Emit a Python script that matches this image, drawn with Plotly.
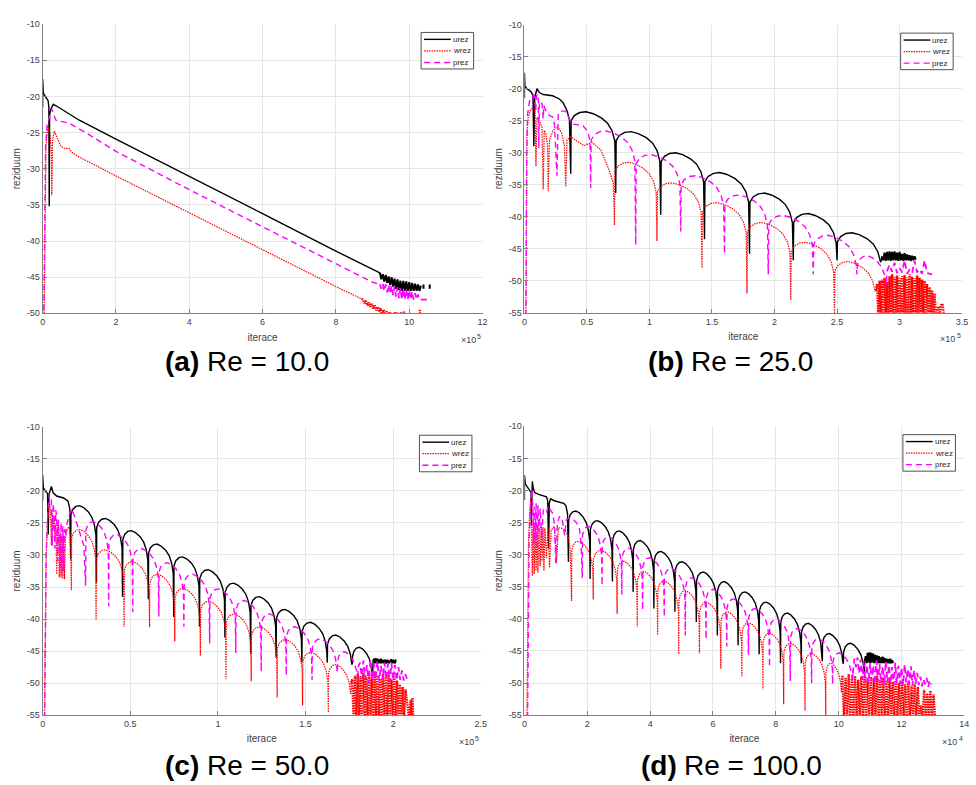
import plotly.graph_objects as go

W, H = 976, 785
FONT = "Liberation Sans, Arial, Helvetica, sans-serif"

# ---------------------------------------------------------------------------
# Residual histories. x is in units of 1e5 iterations (a, b, c) or 1e4 (d).
# Oscillating histories are stored as a start segment, a chain of arches
# (arch boundaries / dip depths / arch peak levels) and a noisy tail.
# ---------------------------------------------------------------------------

# shape of one arch: position inside the arch and drop below the arch peak
ARC_FRAC = [0.01, 0.08, 0.2, 0.34, 0.5, 0.68, 0.82, 0.92, 0.98]
ARC_DROP = [1.4, 0.6, 0.12, 0.0, 0.3, 0.95, 1.8, 3.0, 4.6]

# ----- (a) Re = 10 ---------------------------------------------------------
A_U_X = [0, 0, 0.02, 0.1, 0.15, 0.17, 0.18, 0.19, 0.22, 0.29, 0.4, 0.7, 1.0, 2.0, 4.0, 6.0, 8.0, 9.0, 9.2]
A_U_Y = [-21.5, -17.6, -19.6, -20.2, -20.6, -21.5, -35.2, -22.6, -21.8, -21.1, -21.4, -22.4, -23.3, -25.9, -31.0, -36.2, -41.4, -43.9, -44.4]
A_U_TAIL_X = [9.24, 9.28, 9.32, 9.36, 9.40, 9.44, 9.48, 9.52, 9.56, 9.60, 9.64, 9.68, 9.72, 9.76, 9.80,
              9.84, 9.88, 9.92, 9.96, 10.00, 10.04, 10.08, 10.12, 10.16, 10.20, 10.24, 10.28, 10.32,
              None, 10.39, 10.39, None, 10.56, 10.56]
A_U_TAIL_Y = [-45.3, -44.6, -45.6, -44.7, -45.8, -44.9, -46.1, -45.0, -46.3, -45.2, -46.6, -45.3, -46.8, -45.5, -46.9,
              -45.5, -46.9, -45.6, -46.9, -45.7, -46.9, -45.8, -46.9, -45.9, -46.9, -46.0, -46.9, -46.2,
              None, -46.0, -46.6, None, -46.0, -46.6]

A_W_X = [0.04, 0.06, 0.09, 0.14, 0.2, 0.24, 0.25, 0.27, 0.32, 0.4, 0.5, 0.6, 0.72, 0.81, 1.0, 2.0, 4.0, 6.0, 8.0, 8.7]
A_W_Y = [-51, -35, -27, -24.2, -25.0, -28.0, -33.7, -26.0, -24.8, -25.8, -26.9, -27.2, -27.2, -27.8, -28.4, -31.0, -36.1, -41.3, -46.3, -48.0]
A_W_TAIL_X = [8.74, 8.78, 8.82, 8.86, 8.90, 8.94, 8.98, 9.02, 9.06, 9.10, 9.14, 9.18, 9.22, 9.26, 9.30,
              9.34, 9.38, 9.42, 9.46, 9.50, 9.54, 9.58, 9.62, 9.66, 9.70, 9.74, 9.78, 9.82, 9.86, 9.90,
              None, 10.29, 10.29]
A_W_TAIL_Y = [-48.1, -48.6, -48.3, -48.9, -48.5, -49.1, -48.7, -49.4, -48.9, -49.6, -49.1, -49.8, -49.3, -50.5, -49.5,
              -50.5, -49.7, -50.5, -49.8, -50.5, -49.9, -50.5, -49.8, -50.5, -49.9, -50.5, -49.9, -50.5, -49.8, -50.5,
              None, -49.5, -50.5]

A_P_X = [0.03, 0.05, 0.08, 0.12, 0.17, 0.25, 0.36, 0.72, 1.17, 2.0, 4.0, 6.0, 8.0, 9.0, 9.2]
A_P_Y = [-51, -35, -27, -24.0, -23.0, -21.7, -23.3, -23.7, -25.0, -27.6, -32.9, -38.0, -43.2, -45.7, -46.0]
A_P_TAIL_X = [9.24, 9.28, 9.32, 9.36, 9.40, 9.44, 9.48, 9.52, 9.56, 9.60, 9.64, 9.68, 9.72, 9.76,
              9.80, 9.84, 9.88, 9.92, 9.96, 10.00, 10.04, 10.08, 10.12, 10.16, 10.20, 10.24, 10.28, 10.6]
A_P_TAIL_Y = [-46.6, -45.9, -46.9, -46.0, -47.1, -46.1, -47.3, -46.2, -47.5, -46.3, -47.7, -46.4, -47.9, -46.5,
              -48.1, -46.6, -48.1, -46.7, -48.1, -46.8, -48.1, -47.0, -48.1, -47.2, -48.1, -47.4, -48.1, -48.1]

# ----- (b) Re = 25 ---------------------------------------------------------
B_U_HEAD_X = [0, 0, 0.004, 0.02, 0.05, 0.068, 0.075, 0.082, 0.1, 0.12, 0.15, 0.225, 0.28, 0.31, 0.34, 0.36]
B_U_HEAD_Y = [-21.5, -17.5, -19.6, -20.0, -20.4, -21.0, -29.0, -21.4, -20.0, -20.6, -20.9, -21.1, -21.6, -22.2, -23.4, -24.9]
B_U_DIP_X = [0.37, 0.73, 1.09, 1.44, 1.80, 2.15, 2.50, 2.855]
B_U_DIP_Y = [-33.3, -36.3, -39.7, -43.5, -45.8, -46.8, -46.8, -46.8]
B_U_PEAK = [-23.6, -26.7, -30.0, -33.1, -36.3, -39.5, -42.5]
B_U_TAIL_X = [2.86, 2.87, 2.88, 2.89, 2.90, 2.91, 2.92, 2.93, 2.94, 2.95, 2.96, 2.97, 2.98, 2.99,
              3.00, 3.01, 3.02, 3.03, 3.04, 3.05, 3.06, 3.07, 3.08, 3.09, 3.10, 3.11, 3.12, 3.13]
B_U_TAIL_Y = [-46.2, -46.8, -45.6, -46.9, -45.5, -46.8, -45.4, -46.9, -45.5, -46.8, -45.4, -46.8, -45.6, -46.9,
              -45.5, -46.8, -45.8, -46.9, -45.7, -46.8, -45.9, -46.8, -46.0, -46.9, -46.1, -46.8, -46.2, -46.7]

B_W_HEAD_X = [0.012, 0.015, 0.02, 0.03, 0.05, 0.07, 0.085, 0.092, 0.1, 0.12, 0.14, 0.15, 0.158, 0.17, 0.185,
              0.19, 0.2, 0.23, 0.265, 0.3, 0.32, 0.33, 0.34, 0.37, 0.41, 0.475, 0.54, 0.61, 0.675, 0.71]
B_W_HEAD_Y = [-55.5, -35, -27, -24.5, -23.2, -23.0, -23.5, -32.1, -24.5, -25.0, -26.0, -35.7, -26.5, -27.0, -29.0,
              -36.0, -28.0, -26.5, -25.9, -27.0, -29.0, -35.3, -28.0, -27.5, -28.0, -28.9, -28.4, -29.5, -32.6, -34.7]
B_W_DIP_X = [0.72, 1.06, 1.42, 1.78, 2.13, 2.48, 2.81]
B_W_DIP_Y = [-41.3, -43.8, -48.0, -52.0, -53.0, -55.5, -51.5]
B_W_PEAK = [-31.5, -34.7, -37.8, -40.9, -44.0, -47.0]
B_W_TAIL_X = [2.82, 2.83, 2.84, 2.85, 2.86, 2.87, 2.88, 2.89, 2.90, 2.91, 2.92, 2.93, 2.94, 2.95, 2.96, 2.97,
              2.98, 2.99, 3.00, 3.01, 3.02, 3.03, 3.04, 3.05, 3.06, 3.07, 3.08, 3.09, 3.10, 3.11, 3.12, 3.13,
              3.14, 3.15, 3.16, 3.17, 3.18, 3.19, 3.20, 3.21, 3.22, 3.23, 3.24, 3.25, 3.26, 3.27, 3.28,
              3.29, 3.31, 3.32, 3.335, 3.345, 3.355]
B_W_TAIL_Y = [-50.5, -55.5, -50.0, -55.5, -49.8, -55.5, -49.5, -55.5, -50.2, -55.5, -49.3, -55.5, -49.0, -55.5, -49.4, -55.5,
              -49.2, -55.5, -49.6, -55.5, -49.3, -55.5, -49.1, -55.5, -49.5, -55.5, -49.0, -55.5, -49.4, -55.5, -49.6, -55.5,
              -49.2, -55.5, -49.5, -55.5, -49.8, -55.5, -50.0, -55.5, -50.5, -55.5, -51.0, -55.5, -51.5, -55.5, -52.0,
              -55.5, -54.0, -55.5, -53.6, -53.8, -55.5]

B_P_HEAD_X = [0.012, 0.014, 0.018, 0.025, 0.04, 0.06, 0.08, 0.09, 0.095, 0.105, 0.11, 0.115, 0.12, 0.14, 0.15,
              0.155, 0.17, 0.2, 0.225, 0.24, 0.26, 0.27, 0.29, 0.33, 0.36, 0.38, 0.42, 0.47, 0.51, 0.525]
B_P_HEAD_Y = [-55.5, -42, -30, -24, -22.0, -21.2, -21.0, -23.5, -21.3, -20.8, -21.6, -29.3, -22.0, -22.3, -24.7,
              -22.6, -23.4, -24.2, -24.4, -25.5, -33.6, -24.0, -23.5, -23.5, -24.6, -25.5, -25.6, -25.8, -26.8, -28.5]
B_P_DIP_X = [0.53, 0.89, 1.25, 1.60, 1.95, 2.31, 2.66, 2.90]
B_P_DIP_Y = [-35.5, -44.4, -42.3, -45.8, -49.0, -49.0, -49.0, -48.5]
B_P_PEAK = [-26.6, -30.3, -33.6, -36.6, -39.8, -42.9, -46.1]
B_P_TAIL_X = [2.92, 2.94, 2.96, 2.98, 3.00, 3.02, 3.04, 3.06, 3.08, 3.10, 3.12, 3.14, 3.16, 3.18, 3.20, 3.22, 3.24, 3.26]
B_P_TAIL_Y = [-47.5, -48.6, -47.2, -48.8, -48.0, -48.7, -46.8, -48.9, -48.3, -48.8, -46.9, -48.7, -48.2, -48.9, -46.8, -48.8, -48.9, -49.0]

# ----- (c) Re = 50 ---------------------------------------------------------
C_U_HEAD_X = [0, 0, 0.004, 0.015, 0.028, 0.032, 0.036, 0.05, 0.06, 0.08, 0.12, 0.145, 0.155]
C_U_HEAD_Y = [-21.5, -17.5, -19.5, -20.0, -20.4, -26.8, -20.6, -19.3, -20.3, -20.8, -21.1, -21.6, -22.8]
C_U_DIP_X = [0.16, 0.307, 0.456, 0.603, 0.748, 0.895, 1.04, 1.187, 1.332, 1.479, 1.624, 1.767, 1.885]
C_U_DIP_Y = [-30.7, -34.3, -36.5, -36.9, -39.7, -41.2, -42.9, -45.4, -46.0, -46.8, -46.8, -46.9, -46.6]
C_U_PEAK = [-22.3, -24.3, -26.2, -28.3, -30.3, -32.3, -34.4, -36.5, -38.5, -40.5, -42.5, -44.4]
C_U_TAIL_X = [1.89, 1.895, 1.90, 1.905, 1.91, 1.915, 1.92, 1.925, 1.93, 1.935, 1.94, 1.95, 1.955, 1.96,
              1.97, 1.975, 1.99, 1.995, 2.00, 2.01, 2.015]
C_U_TAIL_Y = [-46.2, -46.9, -46.1, -46.9, -46.2, -46.9, -46.3, -46.9, -46.2, -46.9, -46.4, -46.9, -46.3, -46.9,
              -46.4, -46.9, -46.3, -46.9, -46.4, -46.9, -46.3]

C_W_HEAD_X = [0.01, 0.015, 0.02, 0.03, 0.038, 0.045, 0.05, 0.055, 0.06, 0.065, 0.07, 0.075, 0.08, 0.085, 0.09,
              0.095, 0.1, 0.105, 0.11, 0.115, 0.12, 0.125, 0.13, 0.14, 0.15, 0.158]
C_W_HEAD_Y = [-55.5, -40, -30, -24, -21.8, -23.0, -28.5, -23.5, -26.0, -24.5, -27.0, -25.0, -33.0, -25.3, -25.0,
              -33.5, -26.5, -33.5, -26.8, -33.7, -27.0, -33.8, -27.5, -26.0, -25.6, -27.0]
C_W_DIP_X = [0.164, 0.305, 0.465, 0.61, 0.754, 0.9, 1.046, 1.19, 1.338, 1.483, 1.63, 1.76]
C_W_DIP_Y = [-35.5, -40.1, -41.2, -41.3, -43.5, -45.7, -49.4, -49.7, -52.3, -53.5, -54.6, -50.0]
C_W_PEAK = [-26.0, -29.2, -31.0, -33.0, -35.2, -37.2, -39.2, -41.2, -43.2, -45.2, -47.1]
C_W_TAIL_X = [1.766, 1.774, 1.782, 1.790, 1.798, 1.806, 1.814, 1.822, 1.830, 1.838, 1.846, 1.854, 1.862,
              1.870, 1.878, 1.886, 1.894, 1.902, 1.910, 1.918, 1.926, 1.934, 1.942, 1.950, 1.958, 1.966,
              1.974, 1.982, 1.990, 1.998, 2.006, 2.014, 2.022, 2.030, 2.038, 2.046, 2.054, 2.062, 2.070,
              2.090, 2.100, 2.104, 2.110, 2.115]
C_W_TAIL_Y = [-49.4, -55.5, -48.8, -55.5, -48.5, -55.5, -48.9, -55.5, -48.4, -55.5, -49.0, -55.5, -48.6,
              -55.5, -49.2, -55.5, -48.5, -55.5, -48.8, -55.5, -49.3, -55.5, -48.6, -55.5, -49.0, -55.5,
              -48.7, -55.5, -49.4, -55.5, -49.0, -55.5, -49.6, -55.5, -50.2, -55.5, -50.6, -55.5, -51.0,
              -55.5, -52.6, -55.5, -52.3, -55.5]

C_P_HEAD_X = [0.012, 0.016, 0.02, 0.03, 0.038, 0.045, 0.05, 0.055, 0.06, 0.065, 0.07, 0.075, 0.08, 0.085, 0.09,
              0.1, 0.105, 0.11, 0.115, 0.12, 0.125, 0.13, 0.14, 0.155, 0.165, 0.18, 0.2, 0.22, 0.235]
C_P_HEAD_Y = [-55.5, -40, -30, -23, -20.5, -21.0, -21.5, -28.5, -22.0, -23.5, -29.0, -23.0, -24.0, -31.0, -24.5,
              -32.0, -25.0, -33.0, -25.5, -32.5, -26.0, -27.0, -25.0, -23.5, -22.8, -23.8, -25.5, -27.0, -28.5]
C_P_DIP_X = [0.245, 0.377, 0.514, 0.663, 0.806, 0.953, 1.102, 1.247, 1.39, 1.537, 1.682, 1.80]
C_P_DIP_Y = [-34.8, -38.0, -38.9, -39.6, -41.2, -43.8, -45.3, -48.2, -48.8, -49.5, -48.4, -47.5]
C_P_PEAK = [-24.8, -26.8, -29.0, -31.2, -33.0, -35.3, -37.1, -39.2, -41.2, -43.1, -45.1]
C_P_TAIL_X = [1.81, 1.82, 1.83, 1.84, 1.85, 1.86, 1.87, 1.88, 1.89, 1.90, 1.91, 1.92, 1.93, 1.94,
              1.95, 1.96, 1.97, 1.98, 1.99, 2.00, 2.01, 2.02, 2.03, 2.04, 2.05, 2.06, 2.07, 2.08]
C_P_TAIL_Y = [-46.8, -48.9, -46.5, -49.3, -47.2, -50.0, -46.4, -49.5, -47.0, -49.4, -46.6, -49.6, -47.3, -49.5,
              -46.8, -49.4, -47.0, -49.8, -46.9, -49.5, -47.2, -49.6, -47.5, -49.5, -48.0, -49.6, -48.6, -49.5]

# ----- (d) Re = 100 (x in units of 1e4) -------------------------------------
D_U_HEAD_X = [0, 0, 0.03, 0.1, 0.18, 0.21, 0.22, 0.235, 0.25, 0.28, 0.32, 0.45, 0.6, 0.7, 0.74, 0.77, 0.79,
              0.83, 0.95, 1.1, 1.25, 1.32, 1.37]
D_U_HEAD_Y = [-21.5, -17.6, -19.0, -19.5, -19.9, -20.3, -25.4, -20.0, -18.6, -19.6, -20.3, -20.6, -20.8, -21.0,
              -21.6, -29.0, -22.0, -21.3, -21.6, -21.8, -22.0, -22.4, -23.6]
D_U_DIP_X = [1.40, 2.09, 2.80, 3.46, 4.12, 4.79, 5.47, 6.14, 6.80, 7.47, 8.15, 8.81, 9.48, 10.15, 10.83]
D_U_DIP_Y = [-31.1, -33.8, -34.2, -35.8, -38.4, -38.9, -40.5, -42.6, -44.1, -45.5, -46.9, -46.9, -46.6, -46.9, -46.6]
D_U_PEAK = [-23.2, -24.7, -26.3, -27.8, -29.5, -31.1, -32.7, -34.2, -35.8, -37.4, -39.1, -40.7, -42.3, -43.8]
D_U_TAIL_X = [10.86, 10.89, 10.92, 10.95, 10.98, 11.01, 11.04, 11.07, 11.10, 11.13, 11.16, 11.19, 11.22, 11.25,
              11.28, 11.31, 11.34, 11.37, 11.40, 11.43, 11.46, 11.49, 11.52, 11.55, 11.58, 11.61, 11.64, 11.67,
              11.70, 11.73]
D_U_TAIL_Y = [-45.8, -46.9, -45.3, -46.8, -45.2, -46.9, -45.3, -46.8, -45.4, -46.9, -45.6, -46.8, -45.7, -46.9,
              -45.8, -46.9, -46.0, -46.9, -45.9, -46.9, -46.1, -46.9, -46.2, -46.9, -46.3, -46.9, -46.2, -46.9,
              -46.4, -46.9]

D_W_HEAD_X = [0.08, 0.1, 0.13, 0.17, 0.2, 0.22, 0.25, 0.28, 0.31, 0.34, 0.37, 0.4, 0.43, 0.46, 0.5, 0.53, 0.56,
              0.59, 0.62, 0.65, 0.7, 0.75, 0.8, 0.85, 0.95, 1.02, 1.08, 1.2, 1.3, 1.4, 1.46]
D_W_HEAD_Y = [-55.5, -40, -28, -23.0, -21.5, -24.0, -33.3, -24.5, -33.0, -25.0, -32.5, -25.5, -32.8, -25.5, -31.8,
              -25.5, -31.0, -25.7, -32.5, -25.8, -30.5, -25.9, -32.0, -26.2, -25.6, -31.2, -25.8, -25.9, -26.3,
              -27.2, -29.5]
D_W_DIP_X = [1.50, 2.19, 2.95, 3.59, 4.24, 4.91, 5.57, 6.25, 6.92, 7.59, 8.25, 8.93, 9.59, 10.1]
D_W_DIP_Y = [-37.2, -37.0, -39.2, -41.2, -42.5, -45.5, -45.4, -47.8, -49.0, -51.0, -53.3, -54.3, -55.5, -49.5]
D_W_PEAK = [-27.9, -29.3, -31.0, -32.6, -34.1, -35.6, -37.4, -38.9, -40.6, -42.2, -43.8, -45.4, -46.9]
D_W_TAIL_X = [10.12, 10.17, 10.22, 10.27, 10.32, 10.37, 10.42, 10.47, 10.52, 10.57, 10.62, 10.67, 10.72, 10.77,
              10.82, 10.87, 10.92, 10.97, 11.02, 11.07, 11.12, 11.17, 11.22, 11.27, 11.32, 11.37, 11.42, 11.47,
              11.52, 11.57, 11.62, 11.67, 11.72, 11.77, 11.82, 11.87, 11.92, 11.97, 12.02, 12.07, 12.12, 12.17,
              12.22, 12.27, 12.32, 12.37, 12.42, 12.47, 12.52, 12.57, 12.62, 12.67, 12.72, 12.77, 12.82, 12.87,
              12.92, 12.97, 13.02, 13.07]
D_W_TAIL_Y = [-48.8, -55.5, -49.2, -55.5, -48.6, -55.5, -49.3, -55.5, -48.9, -55.5, -49.5, -55.5, -49.0, -55.5,
              -48.7, -55.5, -49.4, -55.5, -49.0, -55.5, -49.3, -55.5, -48.8, -55.5, -49.5, -55.5, -49.1, -55.5,
              -49.6, -55.5, -49.2, -55.5, -49.8, -55.5, -49.4, -55.5, -50.0, -55.5, -49.6, -55.5, -50.2, -55.5,
              -49.8, -55.5, -50.4, -55.5, -50.1, -55.5, -50.6, -55.5, -53.5, -55.5, -51.0, -55.5, -51.6, -55.5,
              -51.2, -55.5, -51.8, -55.5]

D_P_HEAD_X = [0.1, 0.12, 0.15, 0.2, 0.24, 0.27, 0.29, 0.31, 0.34, 0.37, 0.4, 0.43, 0.46, 0.5, 0.55, 0.6, 0.7,
              0.75, 0.8, 0.9, 0.96, 1.0, 1.05, 1.12, 1.2, 1.28, 1.33, 1.45, 1.55, 1.65, 1.75, 1.8]
D_P_HEAD_Y = [-55.5, -40, -28, -22, -19.8, -23, -28.5, -22.5, -27.5, -22.0, -28.7, -22.3, -26.5, -22.8, -27.5,
              -23.0, -23.5, -22.4, -22.8, -23.6, -25.5, -31.5, -25.0, -24.0, -24.5, -27.0, -24.6, -24.2, -24.5,
              -25.0, -26.0, -28.0]
D_P_DIP_X = [1.84, 2.47, 3.10, 3.76, 4.45, 5.12, 5.78, 6.44, 7.13, 7.80, 8.46, 9.14, 9.81, 10.45]
D_P_DIP_Y = [-33.6, -34.8, -36.2, -38.7, -39.7, -42.6, -43.2, -44.3, -45.6, -47.5, -49.7, -50.0, -50.2, -48.5]
D_P_PEAK = [-25.6, -27.2, -29.0, -30.5, -32.1, -33.6, -35.4, -36.9, -38.4, -40.0, -41.5, -43.1, -45.3]
D_P_TAIL_X = [10.50, 10.55, 10.60, 10.65, 10.70, 10.75, 10.80, 10.85, 10.90, 10.95, 11.00, 11.05, 11.10, 11.15,
              11.20, 11.25, 11.30, 11.35, 11.40, 11.45, 11.50, 11.55, 11.60, 11.65, 11.70, 11.75, 11.80, 11.85,
              11.90, 11.95, 12.00, 12.05, 12.10, 12.15, 12.20, 12.25, 12.30, 12.35, 12.40, 12.45, 12.50, 12.55,
              12.60, 12.65, 12.70, 12.75, 12.80, 12.85, 12.90, 12.95]
D_P_TAIL_Y = [-46.2, -47.5, -46.0, -48.5, -46.3, -49.5, -46.8, -49.8, -47.2, -50.0, -46.9, -49.7, -47.3, -50.2,
              -46.5, -49.8, -47.0, -50.0, -47.4, -50.3, -46.6, -49.9, -47.2, -50.1, -47.5, -50.4, -46.8, -50.0,
              -47.3, -50.2, -47.6, -50.3, -47.1, -49.9, -47.8, -50.2, -47.4, -50.4, -48.0, -50.1, -48.4, -50.3,
              -49.0, -50.5, -49.4, -50.2, -49.2, -50.6, -49.6, -50.2]

# axis ticks
A_XTICKS = [0, 2, 4, 6, 8, 10, 12]
B_XTICKS = [0, 0.5, 1, 1.5, 2, 2.5, 3, 3.5]
C_XTICKS = [0, 0.5, 1, 1.5, 2, 2.5]
D_XTICKS = [0, 2, 4, 6, 8, 10, 12, 14]
Y_TICKS_A = [-50, -45, -40, -35, -30, -25, -20, -15, -10]
Y_TICKS = [-55, -50, -45, -40, -35, -30, -25, -20, -15, -10]

SERIES_NAMES = ["urez", "wrez", "prez"]
CAPTION_TAGS = ["(a)", "(b)", "(c)", "(d)"]
CAPTION_TEXTS = ["Re = 10.0", "Re = 25.0", "Re = 50.0", "Re = 100.0"]
EXPONENTS = ["5", "5", "5", "4"]


def arches(head_x, head_y, dip_x, dip_y, peaks):
    """Chain the start segment and the arches between consecutive dips."""
    xs, ys = list(head_x), list(head_y)
    for i, p in enumerate(peaks):
        x0, x1 = dip_x[i], dip_x[i + 1]
        xs.append(x0)
        ys.append(dip_y[i])
        for f, d in zip(ARC_FRAC, ARC_DROP):
            xs.append(x0 + f * (x1 - x0))
            ys.append(p - d)
    xs.append(dip_x[-1])
    ys.append(dip_y[-1])
    return xs, ys


# per panel: [(main x, main y, tail x, tail y) for urez, wrez, prez]
series = {
    0: [(A_U_X, A_U_Y, A_U_TAIL_X, A_U_TAIL_Y),
        (A_W_X, A_W_Y, A_W_TAIL_X, A_W_TAIL_Y),
        (A_P_X, A_P_Y, A_P_TAIL_X, A_P_TAIL_Y)],
    1: [(*arches(B_U_HEAD_X, B_U_HEAD_Y, B_U_DIP_X, B_U_DIP_Y, B_U_PEAK), B_U_TAIL_X, B_U_TAIL_Y),
        (*arches(B_W_HEAD_X, B_W_HEAD_Y, B_W_DIP_X, B_W_DIP_Y, B_W_PEAK), B_W_TAIL_X, B_W_TAIL_Y),
        (*arches(B_P_HEAD_X, B_P_HEAD_Y, B_P_DIP_X, B_P_DIP_Y, B_P_PEAK), B_P_TAIL_X, B_P_TAIL_Y)],
    2: [(*arches(C_U_HEAD_X, C_U_HEAD_Y, C_U_DIP_X, C_U_DIP_Y, C_U_PEAK), C_U_TAIL_X, C_U_TAIL_Y),
        (*arches(C_W_HEAD_X, C_W_HEAD_Y, C_W_DIP_X, C_W_DIP_Y, C_W_PEAK), C_W_TAIL_X, C_W_TAIL_Y),
        (*arches(C_P_HEAD_X, C_P_HEAD_Y, C_P_DIP_X, C_P_DIP_Y, C_P_PEAK), C_P_TAIL_X, C_P_TAIL_Y)],
    3: [(*arches(D_U_HEAD_X, D_U_HEAD_Y, D_U_DIP_X, D_U_DIP_Y, D_U_PEAK), D_U_TAIL_X, D_U_TAIL_Y),
        (*arches(D_W_HEAD_X, D_W_HEAD_Y, D_W_DIP_X, D_W_DIP_Y, D_W_PEAK), D_W_TAIL_X, D_W_TAIL_Y),
        (*arches(D_P_HEAD_X, D_P_HEAD_Y, D_P_DIP_X, D_P_DIP_Y, D_P_PEAK), D_P_TAIL_X, D_P_TAIL_Y)],
}

# line styles: solid black, dotted red, dashed magenta; the noisy tails are
# drawn heavier so the dense oscillation reads as a filled band
STYLES = [dict(color="#000000", width=1.4, dash="solid"),
          dict(color="#ff0000", width=1.2, dash="1.5px,1px"),
          dict(color="#ff00ff", width=1.4, dash="6px,4px")]
TAIL_WIDTH = [2.0, 2.4, 1.8]

# panel frames in pixels: left, right, top, bottom
FRAMES = [(40, 484, 19.3, 312.3), (526.3, 968, 20, 311.7),
          (40, 482.3, 427.3, 719.3), (526.3, 970.3, 426.7, 719.3)]
XRANGES = [(0, 12), (0, 3.5), (0, 2.5), (0, 14)]
YRANGES = [(-50, -10), (-55, -10), (-55, -10), (-55, -10)]
XTICKS = [A_XTICKS, B_XTICKS, C_XTICKS, D_XTICKS]
YTICKS = [Y_TICKS_A, Y_TICKS, Y_TICKS, Y_TICKS]
# caption placement: left edge of the bold tag and offset of the plain text
CAPTION_LEFT = [163, 650, 163, 643]
CAPTION_GAP = [42, 43.6, 42, 43.6]


def px(x):
    return x / W


def py(y):
    return 1 - y / H


def fmt(v):
    return "%g" % v


fig = go.Figure()
layout = dict(width=W, height=H, margin=dict(l=0, r=0, t=0, b=0), autosize=False,
              paper_bgcolor="white", plot_bgcolor="white", showlegend=False,
              font=dict(family=FONT, size=9, color="#404040"))
shapes, annotations = [], []

AXIS_GRAY = "#808080"
GRID = "#e6e6e6"
TEXT_GRAY = "#404040"


def label(text, x, y, size, color, xanchor="left", bold=False):
    return dict(text=text, x=px(x), y=py(y), xref="paper", yref="paper", showarrow=False,
                xanchor=xanchor, yanchor="middle", borderpad=0,
                font=dict(family=FONT, size=size, color=color, weight="bold" if bold else "normal"))


for k in range(4):
    L, R, T, B = FRAMES[k]
    sfx = "" if k == 0 else str(k + 1)
    xa, ya = "x" + sfx, "y" + sfx
    for (mx, my, tx, ty), st, tw, nm in zip(series[k], STYLES, TAIL_WIDTH, SERIES_NAMES):
        fig.add_trace(go.Scatter(x=mx, y=my, mode="lines", name=nm, line=st,
                                 xaxis=xa, yaxis=ya, hoverinfo="skip", showlegend=False))
        tail_style = dict(st, width=tw)
        fig.add_trace(go.Scatter(x=[mx[-1]] + list(tx), y=[my[-1]] + list(ty), mode="lines", name=nm,
                                 line=tail_style, xaxis=xa, yaxis=ya, hoverinfo="skip", showlegend=False))
    common = dict(showgrid=True, gridcolor=GRID, gridwidth=1, zeroline=False,
                  showline=True, linecolor=AXIS_GRAY, linewidth=1, mirror=False,
                  ticks="inside", ticklen=4, tickwidth=1, tickcolor=AXIS_GRAY,
                  tickfont=dict(family=FONT, size=9, color=TEXT_GRAY), fixedrange=True)
    layout["xaxis" + sfx] = dict(domain=[px(L), px(R)], range=list(XRANGES[k]), anchor=ya,
                                 tickmode="array", tickvals=XTICKS[k],
                                 ticktext=[fmt(v) for v in XTICKS[k]],
                                 title=dict(text="iterace", standoff=7,
                                            font=dict(family=FONT, size=10, color=TEXT_GRAY)),
                                 **common)
    layout["yaxis" + sfx] = dict(domain=[py(B), py(T)], range=list(YRANGES[k]), anchor=xa,
                                 tickmode="array", tickvals=YTICKS[k],
                                 ticktext=[fmt(v) for v in YTICKS[k]],
                                 title=dict(text="reziduum", standoff=4,
                                            font=dict(family=FONT, size=10, color=TEXT_GRAY)),
                                 **common)

    # exponent of the x axis: "×10" with a raised power
    annotations.append(label("\u00d710", R - 6, B + 27, 9, TEXT_GRAY, xanchor="right"))
    annotations.append(label(EXPONENTS[k], R - 6.5, B + 23.5, 7, TEXT_GRAY, xanchor="left"))

    # caption: bold tag followed by the Reynolds number
    cy = 361 if k < 2 else 770
    annotations.append(label(CAPTION_TAGS[k], CAPTION_LEFT[k], cy, 28, "#000000", bold=True))
    annotations.append(label(CAPTION_TEXTS[k], CAPTION_LEFT[k] + CAPTION_GAP[k], cy, 28, "#000000"))

    # legend box
    bx0, bx1, by0, by1 = R - 62, R - 9, T + 8.5, T + 45.5
    shapes.append(dict(type="rect", xref="paper", yref="paper", x0=px(bx0), x1=px(bx1), y0=py(by1), y1=py(by0),
                       line=dict(color="#262626", width=0.8), fillcolor="white", layer="above"))
    for j, (st, nm) in enumerate(zip(STYLES, SERIES_NAMES)):
        ry = T + 15.5 + 11.7 * j
        shapes.append(dict(type="line", xref="paper", yref="paper", x0=px(R - 59), x1=px(R - 32),
                           y0=py(ry), y1=py(ry), line=dict(color=st["color"], width=st["width"], dash=st["dash"]),
                           layer="above"))
        annotations.append(label(nm, R - 31, ry, 8, "#262626"))

layout["shapes"] = shapes
layout["annotations"] = annotations
fig.update_layout(**layout)
fig.write_html("out.html")
